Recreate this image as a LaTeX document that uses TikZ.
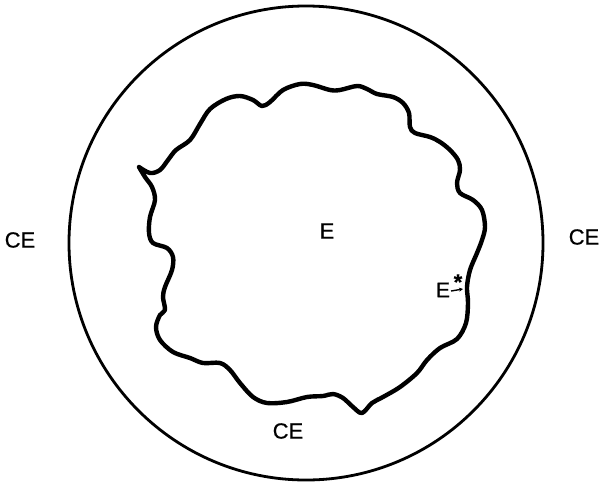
\documentclass[tikz,border=0pt]{standalone}
\usepackage{fontspec}
\setmainfont[FakeBold=0.6]{Liberation Sans}
\usetikzlibrary{arrows.meta}
\begin{document}
\begin{tikzpicture}[x=1pt,y=-1pt,
  lbl/.style={inner sep=0pt,font=\fontsize{22}{26}\selectfont},
  outline/.style={line width=4.4pt,line join=round,line cap=round},
  ring/.style={line width=2.8pt}]
\useasboundingbox (0,0) rectangle (604,484);
\fill[white] (0,0) rectangle (604,484);
\draw[ring] (306,243) circle[radius=237];
\draw[outline] plot[smooth,tension=0.55] coordinates{
(139,167) (150,173) (160,170) (168,160) (176,150) (190,140) (200,124) (210,109)
(226,99) (240,96) (253,100) (262,106) (270,102) (283,90) (300,84) (313,85)
(330,90) (340,90) (357,86) (367,89) (377,94) (393,97) (403,103) (409,113)
(410,127) (415,133) (430,137) (440,142) (450,150) (458,160) (460,170) (457,183)
(460,193) (473,200) (482,210) (485,227) (482,240) (477,253) (470,270) (467,287)
(468,303) (466,323) (457,339) (440,348) (427,360) (417,373) (400,387) (383,397)
(372,403) (362,413) (353,407) (343,398) (333,394) (323,396) (307,397) (287,402)
(267,403) (253,397) (240,383) (230,370) (220,363) (203,363) (190,358) (173,352)
(160,340) (156,327) (160,315) (165,310) (163,297) (165,287) (172,270) (173,257)
(167,248) (153,243) (149,233) (150,217) (155,200) (152,187) (145,177) (139,167)};
\node[lbl] (ceL) at (20,240) {CE};
\node[lbl] (ceR) at (584,237) {CE};
\node[lbl] (ceB) at (288,431) {CE};
\node[lbl] (e) at (327,231) {E};
\node[lbl,font=\fontsize{21}{25}\selectfont] (es) at (443,290) {E};
\node[inner sep=0pt,font=\fontsize{22}{24}\selectfont\bfseries] (star) at (458,282) {*};
\coordinate (a0) at (451,291);
\coordinate (a1) at (463,289);
\draw[line width=1.4pt,-{Stealth[length=4pt,width=4pt]}] (a0) -- (a1);
\end{tikzpicture}
\end{document}
